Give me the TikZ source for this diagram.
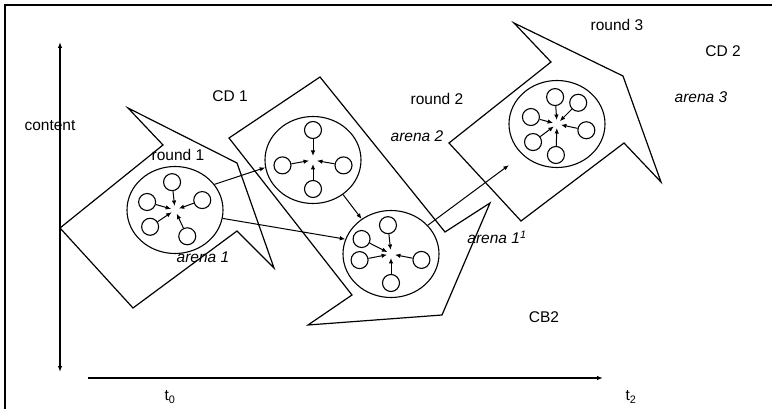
\documentclass[tikz,border=0pt]{standalone}
\usepackage{fontspec}
\setmainfont{Liberation Sans}
\usetikzlibrary{arrows.meta,shapes.geometric,calc}
\tikzset{
  arena/.style={draw, ellipse, line width=1.1pt, minimum width=96pt, minimum height=87pt, inner sep=0pt},
  player/.style={draw, circle, line width=1.1pt, minimum size=17pt, inner sep=0pt},
  link/.style={-{Latex[length=5.5pt,width=4.5pt]}, line width=1pt},
  front/.style={line width=1.2pt, line join=miter},
  axis/.style={line width=1.5pt},
  txt/.style={font=\fontsize{15.5}{18}\selectfont, inner sep=0pt},
  arenatxt/.style={font=\fontsize{15.5}{18}\selectfont\itshape, inner sep=0pt}
}
\begin{document}
\begin{tikzpicture}[x=1pt,y=-1pt]
  \useasboundingbox (0,0) rectangle (772,409);

  % Frame
  \draw [line width=2pt] (4.5,409) -- (4.5,5.5) -- (772,5.5);

  % Axes
  \coordinate (ytop) at (60,42);
  \coordinate (ybot) at (60,372);
  \coordinate (xleft) at (88,378);
  \coordinate (xright) at (603,378);
  \draw [axis, {Latex[length=6pt,width=4.5pt]}-{Latex[length=6pt,width=4.5pt]}] (ybot) -- (ytop);
  \draw [axis, -{Latex[length=6pt,width=4.5pt]}] (xleft) -- (xright);
  \node [txt] (content) at (50,126) {content};
  \node [txt] (t0) at (170,397) {t\textsubscript{0}};
  \node [txt] (t2) at (631,397) {t\textsubscript{2}};

  % Front of round 1
  \draw [front] (60,228) -- (163,145) -- (128,108) -- (237,163) -- (274,268) -- (237,231) -- (133,308) -- cycle;

  % Front of CD 1
  \draw [front] (229,138) -- (320,77) -- (445,232) -- (490,203) -- (442,315) -- (308,325) -- (352,295) -- cycle;

  % Front of round 2 and round 3
  \draw [front] (449,143) -- (551,62) -- (514,23) -- (623,76) -- (661,182) -- (624,143) -- (521,221) -- cycle;

  % Arenas
  \node [arena] (a1) at (175,210) {};
  \node [arena] (a2) at (313,160) {};
  \node [arena] (a3) at (391,254) {};
  \node [arena] (a4) at (557,124) {};

  % Players in arena 1
  \foreach \a/\d [count=\i] in {96/28,164/29,20/29,214/30,295/29} {
    \node [player] (p1\i) at ($(a1.center)+(\a:\d pt)$) {};
    \draw [link, shorten >=4pt] (p1\i) -- (a1.center);
  }

  % Players in arena CD 1
  \foreach \a/\d [count=\i] in {90/30,190/31,350/31,270/29} {
    \node [player] (p2\i) at ($(a2.center)+(\a:\d pt)$) {};
    \draw [link, shorten >=4pt] (p2\i) -- (a2.center);
  }

  % Players in arena 1'
  \foreach \a/\d [count=\i] in {96/29,153/33,191/32,349/31,270/29} {
    \node [player] (p3\i) at ($(a3.center)+(\a:\d pt)$) {};
    \draw [link, shorten >=4pt] (p3\i) -- (a3.center);
  }

  % Players in arena 3
  \foreach \a/\d [count=\i] in {94/27,45/30,165/27,348/30,217/30,268/31} {
    \node [player] (p4\i) at ($(a4.center)+(\a:\d pt)$) {};
    \draw [link, shorten >=4pt] (p4\i) -- (a4.center);
  }

  % Moves between arenas
  \draw [link] (a1.33) -- (a2.189);
  \draw [link] (a1.350) -- (a3.162);
  \draw [link] (a2.311) -- (a3.130);
  \draw [link, shorten >=17pt] (a3.38) -- (a4.222);

  % Labels
  \node [txt] (cd1) at (230,96) {CD 1};
  \node [txt] (round1) at (178,155) {round 1};
  \node [arenatxt] (arena1) at (203,257) {arena 1};
  \node [txt] (round2) at (437,99) {round 2};
  \node [arenatxt] (arena2) at (417,136) {arena 2};
  \node [txt] (round3) at (617,25) {round 3};
  \node [txt] (cd2) at (723,51) {CD 2};
  \node [arenatxt] (arena3) at (701,97) {arena 3};
  \node [arenatxt] (arena11) at (497,237) {arena 1\textsuperscript{1}};
  \node [txt] (cb2) at (544,317) {CB2};
\end{tikzpicture}
\end{document}
